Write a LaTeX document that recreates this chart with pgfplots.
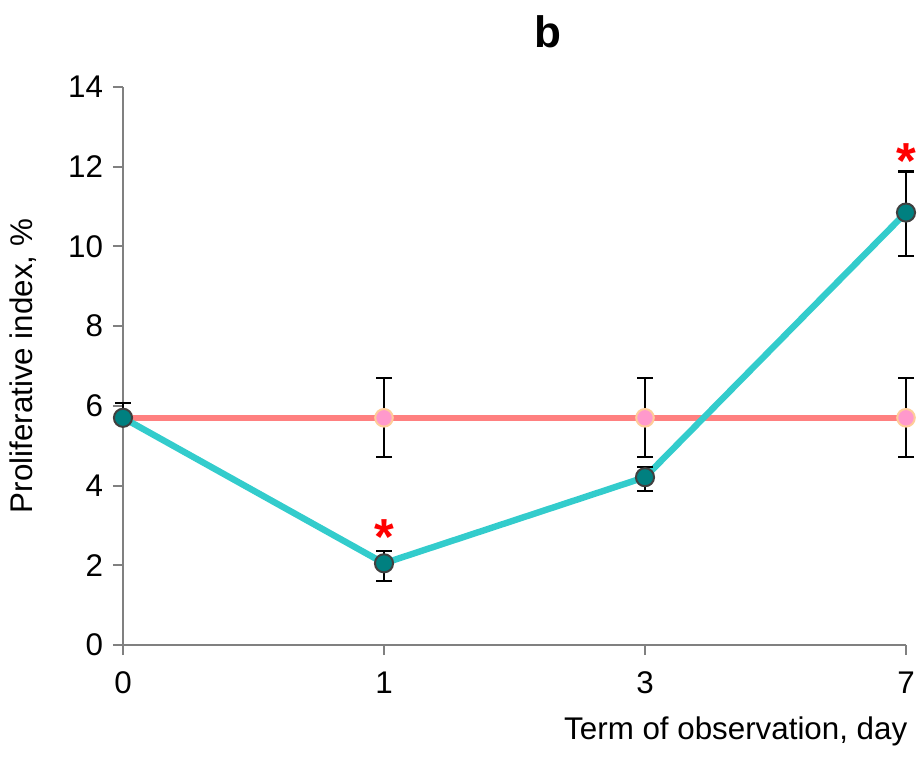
\documentclass[border=0pt]{standalone}
\usepackage{pgfplots}
\pgfplotsset{compat=1.18}
\usepackage{fontspec}
\setmainfont{Liberation Sans}

\definecolor{tealline}{RGB}{51,204,204}
\definecolor{tealfill}{RGB}{0,128,128}
\definecolor{pinkline}{RGB}{255,128,128}
\definecolor{pinkfill}{RGB}{255,153,204}
\definecolor{pinkedge}{RGB}{255,204,153}
\definecolor{axisgray}{RGB}{128,128,128}

\begin{document}
\begin{tikzpicture}
% frame of the 917x760 px picture, 1 px = 0.75 pt, axis box from (123,645) to (906,87)
\path[use as bounding box] (-92.25pt,-86.25pt) rectangle (595.5pt,483.75pt);
\begin{axis}[
    scale only axis,
    width=587.25pt, height=418.5pt,
    xmin=0, xmax=3,
    ymin=0, ymax=14,
    axis x line*=bottom,
    axis y line*=left,
    axis line style={axisgray, line width=1.5pt},
    xtick={0,1,2,3},
    xticklabels={0,1,3,7},
    ytick={0,2,...,14},
    tick align=outside,
    major tick length=7.5pt,
    tick style={axisgray, line width=1.5pt},
    /pgf/number format/assume math mode=true,
    ticklabel style={font=\fontsize{23.5}{28}\selectfont},
    yticklabel style={xshift=-4pt},
    xticklabel style={yshift=-9pt},
    clip=false,
]

% control
\addplot[pinkline, line width=4.8pt,
    mark=*, mark size=6.6pt,
    mark options={fill=pinkfill, draw=pinkedge, line width=1.5pt},
    error bars/.cd, y dir=both, y explicit,
    error bar style={black, line width=1.6pt},
    error mark options={rotate=90, mark size=6pt, black, line width=1.6pt}]
    table[x=x, y=y, y error plus=ep, y error minus=em] {
    x  y    ep   em
    0  5.7  0    0
    1  5.7  0.99 0.99
    2  5.7  0.99 0.99
    3  5.7  0.99 0.99
};

% experiment
\addplot[tealline, line width=4.8pt,
    mark=*, mark size=6.8pt,
    mark options={fill=tealfill, draw=black!75, line width=1.5pt},
    error bars/.cd, y dir=both, y explicit,
    error bar style={black, line width=1.6pt},
    error mark options={rotate=90, mark size=6pt, black, line width=1.6pt}]
    table[x=x, y=y, y error plus=ep, y error minus=em] {
    x  y     ep    em
    0  5.7   0.38  0
    1  2.05  0.31  0.44
    2  4.21  0.25  0.34
    3  10.85 1.03  1.08
};

\node[red, font=\bfseries\fontsize{38}{42}\selectfont] at (axis cs:1,2.72) {*};
\node[red, font=\bfseries\fontsize{38}{42}\selectfont] at (axis cs:3,12.15) {*};

\node[anchor=base, font=\bfseries\fontsize{33}{38}\selectfont]
    at ([yshift=29.25pt]rel axis cs:0.543,1) {b};
\node[anchor=base east, font=\fontsize{23.5}{28}\selectfont]
    at ([xshift=4.5pt,yshift=-70.5pt]rel axis cs:1,0) {Term of observation, day};
\node[rotate=90, anchor=base, font=\fontsize{23.5}{28}\selectfont]
    at ([xshift=-67.5pt]rel axis cs:0,0.5) {Proliferative index, \%};
\end{axis}
\end{tikzpicture}
\end{document}
